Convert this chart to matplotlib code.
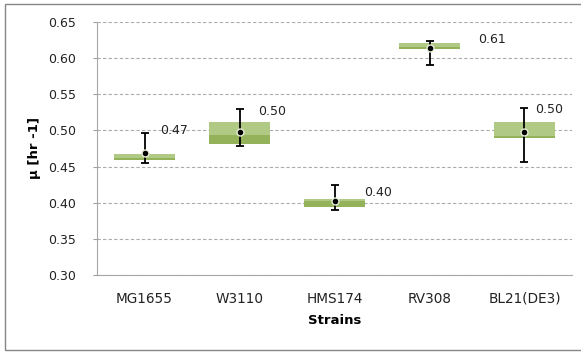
import matplotlib.pyplot as plt
from matplotlib.patches import Rectangle

# data
strains = ['MG1655', 'W3110', 'HMS174', 'RV308', 'BL21(DE3)']
box_low = [0.459, 0.481, 0.394, 0.612, 0.490]
box_mid = [0.462, 0.493, 0.403, 0.616, 0.492]
box_high = [0.468, 0.511, 0.405, 0.621, 0.511]
mean_mu = [0.469, 0.498, 0.403, 0.614, 0.498]
err_low = [0.455, 0.479, 0.390, 0.591, 0.456]
err_high = [0.497, 0.530, 0.425, 0.624, 0.531]
labels = ['0.47', '0.50', '0.40', '0.61', '0.50']

# label placement (pixel offsets from top of whisker)
lab_dx = [16, 19, 30, 49, 11]
lab_dy = [-2, 3, 8, -1, 1]

dark = '#93B25A'
light = '#B0C985'

fig = plt.figure(figsize=(5.81, 3.54), dpi=100)
ax = fig.add_axes([0.167, 0.2232, 0.8175, 0.7147])

x = range(len(strains))
w = 0.64
ax.bar(x, [m - l for m, l in zip(box_mid, box_low)], w, bottom=box_low,
       color=dark, zorder=2)
ax.bar(x, [h - m for h, m in zip(box_high, box_mid)], w, bottom=box_mid,
       color=light, zorder=2)

ax.errorbar(x, mean_mu,
            yerr=[[m - l for m, l in zip(mean_mu, err_low)],
                  [h - m for h, m in zip(err_high, mean_mu)]],
            fmt='none', ecolor='black', elinewidth=1.3, capsize=3,
            capthick=1.3, zorder=3)
ax.plot(x, mean_mu, 'o', color='black', markersize=5,
        markeredgecolor='#E8EED8', markeredgewidth=1, zorder=4)

for i, t in enumerate(labels):
    ax.annotate(t, (i, err_high[i]), xytext=(lab_dx[i] * 0.72, -lab_dy[i] * 0.72),
                textcoords='offset points', ha='left', va='center',
                fontsize=9, color='#222222')

ax.set_xlim(-0.5, 4.5)
ax.set_ylim(0.30, 0.65)
ax.set_yticks([0.30, 0.35, 0.40, 0.45, 0.50, 0.55, 0.60, 0.65])
ax.set_yticklabels(['%.2f' % v for v in ax.get_yticks()])
ax.set_xticks(list(x))
ax.set_xticklabels(strains)
ax.tick_params(axis='y', labelsize=9, length=3, color='#A0A0A0', pad=12,
               labelcolor='#222222')
ax.tick_params(axis='x', labelsize=9.8, length=0, pad=12, labelcolor='#222222')

ax.yaxis.grid(True, linestyle=(0, (3, 2)), color='#ABABAB', linewidth=0.8)
ax.set_axisbelow(True)
for s in ['top', 'right']:
    ax.spines[s].set_visible(False)
for s in ['left', 'bottom']:
    ax.spines[s].set_color('#A6A6A6')
    ax.spines[s].set_linewidth(0.8)

ax.set_xlabel('Strains', fontsize=9.5, fontweight='bold', labelpad=6)
ax.set_ylabel('\u03bc [hr -1]', fontsize=9.5, fontweight='bold', labelpad=5)

# chart frame (right edge is cut off in the original)
fig.patches.append(Rectangle((5 / 581, 1 - 350 / 354), 1.1, 346 / 354,
                             transform=fig.transFigure, fill=False,
                             edgecolor='#868686', linewidth=1))

fig.savefig('out.png', dpi=100)
